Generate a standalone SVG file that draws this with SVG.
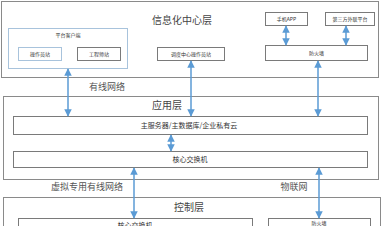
<svg xmlns="http://www.w3.org/2000/svg" width="384" height="226" viewBox="0 0 384 226">
<style>
.layer{fill:#fff;stroke:#8a8a8a;stroke-width:1}
.box{fill:#fff;stroke:#7a7a7a;stroke-width:1}
.lbox{fill:#fff;stroke:#a8c3dc;stroke-width:1}
.big{font-family:"Noto Sans CJK SC","Noto Sans",sans-serif;font-size:10px;fill:#444;text-anchor:middle}
.mid{font-family:"Noto Sans CJK SC","Noto Sans",sans-serif;font-size:7px;fill:#333;text-anchor:middle}
.sm{font-family:"Noto Sans CJK SC","Noto Sans",sans-serif;font-size:5px;fill:#333;text-anchor:middle}
.net{font-family:"Noto Sans CJK SC","Noto Sans",sans-serif;font-size:9px;fill:#555;text-anchor:middle}
.arr{stroke:#5b9bd5;stroke-width:1.5;fill:none}
</style>
<defs>
<marker id="ah" viewBox="0 0 10 10" refX="9" refY="5" markerWidth="5" markerHeight="5" orient="auto-start-reverse">
<path d="M0,0 L10,5 L0,10 z" fill="#5b9bd5"/>
</marker>
</defs>
<g id="info-layer">
<rect class="layer" x="1.5" y="1.5" width="377" height="76"/>
<text class="big" x="182" y="24">信息化中心层</text>
</g>
<g id="platform-client">
<rect class="lbox" x="8.5" y="28.5" width="119" height="40"/>
<text class="sm" x="68" y="37">平台客户端</text>
</g>
<g id="operator-station">
<rect class="lbox" x="18.5" y="47.5" width="43" height="13"/>
<text class="sm" x="40" y="55.8">操作员站</text>
</g>
<g id="engineer-station">
<rect class="box" x="77.5" y="47.5" width="43" height="13"/>
<text class="sm" x="99" y="55.8">工程师站</text>
</g>
<g id="dispatch-station">
<rect class="box" x="157.5" y="47.5" width="67" height="13"/>
<text class="sm" x="191" y="55.8">调度中心操作员站</text>
</g>
<g id="mobile-app">
<rect class="box" x="265.5" y="12.5" width="42" height="13"/>
<text class="sm" x="286.5" y="20.8">手机APP</text>
</g>
<g id="third-party">
<rect class="box" x="325.5" y="12.5" width="49" height="13"/>
<text class="sm" x="350" y="20.8">第三方外联平台</text>
</g>
<g id="firewall-top">
<rect class="box" x="265.5" y="45.5" width="102" height="15"/>
<text class="sm" x="316.5" y="54.8">防火墙</text>
</g>
<g id="app-layer">
<rect class="layer" x="3.5" y="96.5" width="375" height="83"/>
<text class="big" x="167" y="109">应用层</text>
</g>
<g id="main-server">
<rect class="box" x="13.5" y="116.5" width="354" height="18"/>
<text class="mid" x="189" y="128">主服务器/主数据库/企业私有云</text>
</g>
<g id="core-switch">
<rect class="box" x="13.5" y="151.5" width="354" height="16"/>
<text class="mid" x="190" y="162">核心交换机</text>
</g>
<g id="control-layer">
<rect class="layer" x="3.5" y="197.5" width="377" height="40"/>
<text class="big" x="189" y="211">控制层</text>
</g>
<g id="core-switch-bottom">
<rect class="box" x="18.5" y="218.5" width="234" height="20"/>
<text class="mid" x="135" y="228">核心交换机</text>
</g>
<g id="firewall-bottom">
<rect class="box" x="268.5" y="218.5" width="102" height="20"/>
<text class="sm" x="319" y="224.5">防火墙</text>
</g>
<g id="connectors">
<line class="arr" x1="68" y1="69" x2="68" y2="116" marker-start="url(#ah)" marker-end="url(#ah)"/>
<line class="arr" x1="191" y1="61" x2="191" y2="116" marker-start="url(#ah)" marker-end="url(#ah)"/>
<line class="arr" x1="318" y1="61" x2="318" y2="116" marker-start="url(#ah)" marker-end="url(#ah)"/>
<line class="arr" x1="286" y1="26" x2="286" y2="45" marker-start="url(#ah)" marker-end="url(#ah)"/>
<line class="arr" x1="346" y1="26" x2="346" y2="45" marker-start="url(#ah)" marker-end="url(#ah)"/>
<line class="arr" x1="171" y1="135" x2="171" y2="151" marker-start="url(#ah)" marker-end="url(#ah)"/>
<line class="arr" x1="134" y1="168" x2="134" y2="218" marker-start="url(#ah)" marker-end="url(#ah)"/>
<line class="arr" x1="319" y1="168" x2="319" y2="218" marker-start="url(#ah)" marker-end="url(#ah)"/>
<text class="net" x="107" y="90">有线网络</text>
<text class="net" x="87" y="190">虚拟专用有线网络</text>
<text class="net" x="294" y="190">物联网</text>
</g>
</svg>
